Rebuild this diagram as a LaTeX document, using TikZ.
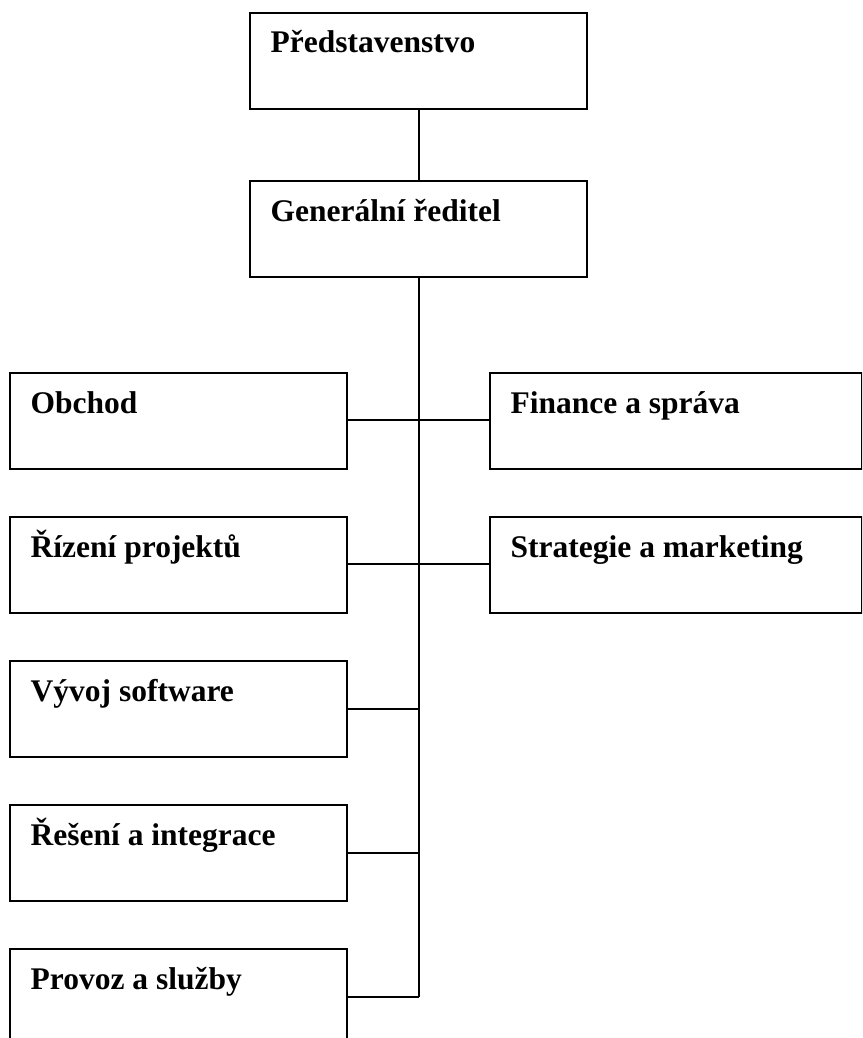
\documentclass[tikz,border=0pt]{standalone}
\usepackage{fontspec}
\setmainfont{Liberation Serif}
\begin{document}
\begin{tikzpicture}[x=1pt, y=-1pt,
  unit/.style={draw, line width=2.2pt, rectangle, inner sep=0pt,
    minimum width=337pt, minimum height=96pt, anchor=north west},
  wide/.style={unit, minimum width=372pt},
  tall/.style={unit, minimum height=110pt},
  caption/.style={label={[anchor=base west, xshift=21.5pt, yshift=-41pt,
    inner sep=0pt, font=\fontsize{31.5}{38}\selectfont\bfseries]north west:#1}},
  link/.style={line width=2.2pt}]
  \clip (0,0) rectangle (862,1038);
  \fill[white] (0,0) rectangle (862,1038);

  % top of the hierarchy
  \node[unit, caption={Představenstvo}] (board) at (249,12) {};
  \node[unit, caption={Generální ředitel}] (ceo) at (249,180) {};

  % left column of departments
  \node[unit, caption={Obchod}] (sales) at (9,372) {};
  \node[unit, caption={Řízení projektů}] (pm) at (9,516) {};
  \node[unit, caption={Vývoj software}] (dev) at (9,660) {};
  \node[unit, caption={Řešení a integrace}] (integ) at (9,804) {};
  \node[unit, tall, caption={Provoz a služby}] (ops) at (9,948) {};

  % right column of departments
  \node[wide, caption={Finance a správa}] (fin) at (489,372) {};
  \node[wide, caption={Strategie a marketing}] (mkt) at (489,516) {};

  % connectors
  \coordinate (busend) at (ceo.south |- 0,997);
  \draw[link] (board.south) -- (ceo.north);
  \draw[link] (ceo.south) -- (busend);
  \draw[link] (sales.east |- 0,420) -- (fin.west |- 0,420);
  \draw[link] (pm.east |- 0,564) -- (mkt.west |- 0,564);
  \draw[link] (dev.east) -- (dev.east -| busend);
  \draw[link] (integ.east) -- (integ.east -| busend);
  \draw[link] (ops.east |- busend) -- (busend);
\end{tikzpicture}
\end{document}
